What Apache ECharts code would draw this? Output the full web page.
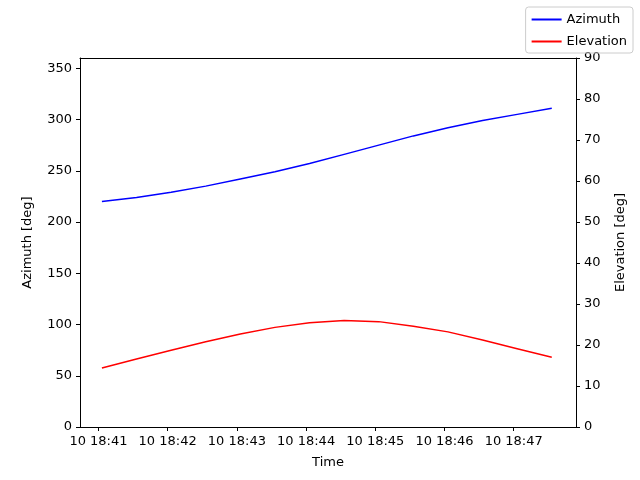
<!DOCTYPE html>
<html><head><meta charset="utf-8">
<script src="https://cdn.jsdelivr.net/npm/echarts@6/dist/echarts.min.js"></script>
<style>html,body{margin:0;padding:0;background:#fff}#c{width:640px;height:480px}</style>
</head><body><div id="c"></div>
<script>
// seconds since 18:40:00 on day 10
const times = [63,93,123,153,183,213,243,273,303,333,363,393,423,453];
const azimuth = [220,224,229,235,242,249,257,266,275,284,292,299,305,311];
const elevation = [14.4,16.6,18.7,20.8,22.7,24.3,25.4,26.0,25.7,24.6,23.2,21.2,19.1,17.0];
const xTicks = [60,120,180,240,300,360,420];
const leftTicks = [0,50,100,150,200,250,300,350];

const font = 'DejaVu Sans';
const fs = 13;
const pad = n => String(n).padStart(2,'0');
const fmt = v => '10 18:' + pad(40 + Math.round(v/60));
const chart = echarts.init(document.getElementById('c'));
const axLine = {show:true,lineStyle:{color:'#000',width:1}};
chart.setOption({
  animation:false,
  textStyle:{fontFamily:font},
  grid:{left:80,right:64,top:58,bottom:53},
  legend:{orient:'vertical',right:7,top:7,itemWidth:30,itemHeight:2,itemGap:9,
    padding:[6,6,5,6],borderColor:'#ccc',borderWidth:1,borderRadius:3,
    textStyle:{fontFamily:font,fontSize:fs,color:'#000'},icon:'rect',
    data:['Azimuth','Elevation']},
  xAxis:[{type:'value',min:44,max:474,name:'Time',nameLocation:'middle',nameGap:29,
    nameTextStyle:{fontFamily:font,fontSize:fs,color:'#000'},
    axisLine:{...axLine,onZero:false},splitLine:{show:false},
    axisTick:{show:true,customValues:xTicks,lineStyle:{color:'#000'},length:4},
    axisLabel:{customValues:xTicks,formatter:fmt,fontFamily:font,fontSize:fs,color:'#000'}},
    {type:'value',position:'top',min:44,max:474,axisLine:{...axLine,onZero:false},
     axisTick:{show:false},axisLabel:{show:false},splitLine:{show:false}}],
  yAxis:[
    {type:'value',min:0,max:360,name:'Azimuth [deg]',nameLocation:'middle',nameGap:46,
     nameTextStyle:{fontFamily:font,fontSize:fs,color:'#000'},
     axisLine:axLine,splitLine:{show:false},
     axisTick:{show:true,customValues:leftTicks,lineStyle:{color:'#000'},length:4},
     axisLabel:{customValues:leftTicks,fontFamily:font,fontSize:fs,color:'#000'}},
    {type:'value',min:0,max:90,interval:10,name:'Elevation [deg]',nameLocation:'middle',nameGap:38,
     nameTextStyle:{fontFamily:font,fontSize:fs,color:'#000'},
     axisLine:axLine,splitLine:{show:false},
     axisTick:{show:true,lineStyle:{color:'#000'},length:4},
     axisLabel:{fontFamily:font,fontSize:fs,color:'#000'}}
  ],
  series:[
    {name:'Azimuth',type:'line',yAxisIndex:0,showSymbol:false,color:'#0000ff',
     lineStyle:{width:1.5},data:times.map((t,i)=>[t,azimuth[i]])},
    {name:'Elevation',type:'line',yAxisIndex:1,showSymbol:false,color:'#ff0000',
     lineStyle:{width:1.5},data:times.map((t,i)=>[t,elevation[i]])}
  ]
});
</script></body></html>
